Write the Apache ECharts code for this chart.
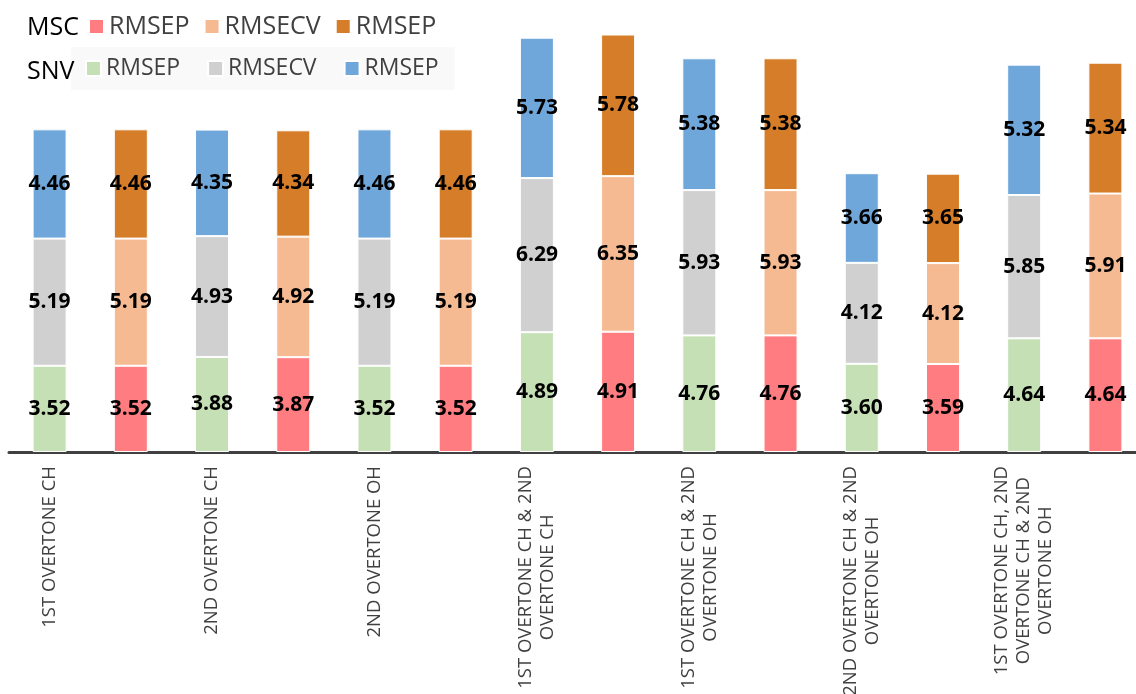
<!DOCTYPE html>
<html>
<head>
<meta charset="utf-8">
<title>RMSEP / RMSECV - SNV vs MSC</title>
<script src="https://cdn.jsdelivr.net/npm/echarts@6/dist/echarts.min.js"></script>
<style>
  html, body { margin: 0; padding: 0; background: #fff; }
  #chart { width: 1136px; height: 694px; }
</style>
</head>
<body>
<div id="chart"></div>
<script>
// one bar per preprocessing, SNV bar first then MSC bar for each region set
var regions = [
  '1ST OVERTONE CH',
  '2ND OVERTONE CH',
  '2ND OVERTONE OH',
  '1ST OVERTONE CH & 2ND\nOVERTONE CH',
  '1ST OVERTONE CH & 2ND\nOVERTONE OH',
  '2ND OVERTONE CH & 2ND\nOVERTONE OH',
  '1ST OVERTONE CH, 2ND\nOVERTONE CH & 2ND\nOVERTONE OH'
]

// SNV
var snvRmsep = [3.52, 3.88, 3.52, 4.89, 4.76, 3.60, 4.64]
var snvRmsecv = [5.19, 4.93, 5.19, 6.29, 5.93, 4.12, 5.85]
var snvRmsep2 = [4.46, 4.35, 4.46, 5.73, 5.38, 3.66, 5.32]
// MSC
var mscRmsep = [3.52, 3.87, 3.52, 4.91, 4.76, 3.59, 4.64]
var mscRmsecv = [5.19, 4.92, 5.19, 6.35, 5.93, 4.12, 5.91]
var mscRmsep2 = [4.46, 4.34, 4.46, 5.78, 5.38, 3.65, 5.34]

var categories = []
regions.forEach(function (r) {
  categories.push('SNV|' + r)
  categories.push('MSC|' + r)
})

// put values on SNV (even) or MSC (odd) slots
function spread(values, odd) {
  var out = []
  values.forEach(function (v) {
    if (odd) { out.push('-'); out.push(v) } else { out.push(v); out.push('-') }
  })
  return out
}

function makeSeries(name, values, odd, color) {
  return {
    name: name,
    type: 'bar',
    stack: 'total',
    barWidth: 34,
    data: spread(values, odd),
    itemStyle: { color: color, borderColor: '#fff', borderWidth: 1 },
    label: {
      show: true,
      position: 'inside',
      color: '#000',
      fontFamily: 'Open Sans',
      fontWeight: 'bold',
      fontSize: 21,
      formatter: function (p) { return p.value.toFixed(2) }
    }
  }
}

var chart = echarts.init(document.getElementById('chart'))

function legendName(n) { return n.split('|')[0].trim() }

var option = {
  animation: false,
  legend: [{
    data: ['RMSEP|MSC', 'RMSECV|MSC', 'RMSEP |MSC'],
    left: 88,
    top: 14,
    padding: 0,
    itemWidth: 15,
    itemHeight: 15,
    itemGap: 14,
    icon: 'rect',
    textStyle: { color: '#404040', fontFamily: 'Open Sans', fontSize: 25 },
    formatter: legendName
  }, {
    data: ['RMSEP|SNV', 'RMSECV|SNV', 'RMSEP |SNV'],
    left: 71,
    top: 47,
    padding: [10, 16, 10, 14],
    backgroundColor: '#f9f9f9',
    itemWidth: 15,
    itemHeight: 15,
    itemGap: 27,
    icon: 'rect',
    textStyle: { color: '#404040', fontFamily: 'Open Sans', fontSize: 23 },
    formatter: legendName
  }],
  graphic: [
    { type: 'text', left: 27, top: 15, z: 100, style: { text: 'MSC', fill: '#000', font: '25px "Open Sans"' } },
    { type: 'text', left: 27, top: 59, z: 100, style: { text: 'SNV', fill: '#000', font: '25px "Open Sans"' } }
  ],
  grid: { left: 9, right: -10, top: 11, bottom: 242, outerBoundsMode: 'none' },
  xAxis: {
    type: 'category',
    data: categories,
    axisTick: { show: false },
    axisLine: { lineStyle: { color: '#404040', width: 3 } },
    axisLabel: {
      interval: 0,
      rotate: 90,
      margin: 14,
      formatter: function (v) {
        var parts = v.split('|')
        if (parts[0] !== 'SNV') return ''
        return parts[1].split('\n').map(function (l) { return '{c|' + l + '}' }).join('\n')
      },
      rich: {
        c: { align: 'center', color: '#404040', fontFamily: 'Open Sans', fontSize: 18.5, lineHeight: 22 }
      }
    }
  },
  yAxis: {
    type: 'value',
    min: 0,
    max: 18,
    show: false
  },
  series: [
    makeSeries('RMSEP|SNV', snvRmsep, false, '#C5E0B4'),
    makeSeries('RMSEP|MSC', mscRmsep, true, '#FF7C80'),
    makeSeries('RMSECV|SNV', snvRmsecv, false, '#D0D0D0'),
    makeSeries('RMSECV|MSC', mscRmsecv, true, '#F5BA92'),
    makeSeries('RMSEP |SNV', snvRmsep2, false, '#70A7DA'),
    makeSeries('RMSEP |MSC', mscRmsep2, true, '#D57D28')
  ]
}

chart.setOption(option)
</script>
</body>
</html>
